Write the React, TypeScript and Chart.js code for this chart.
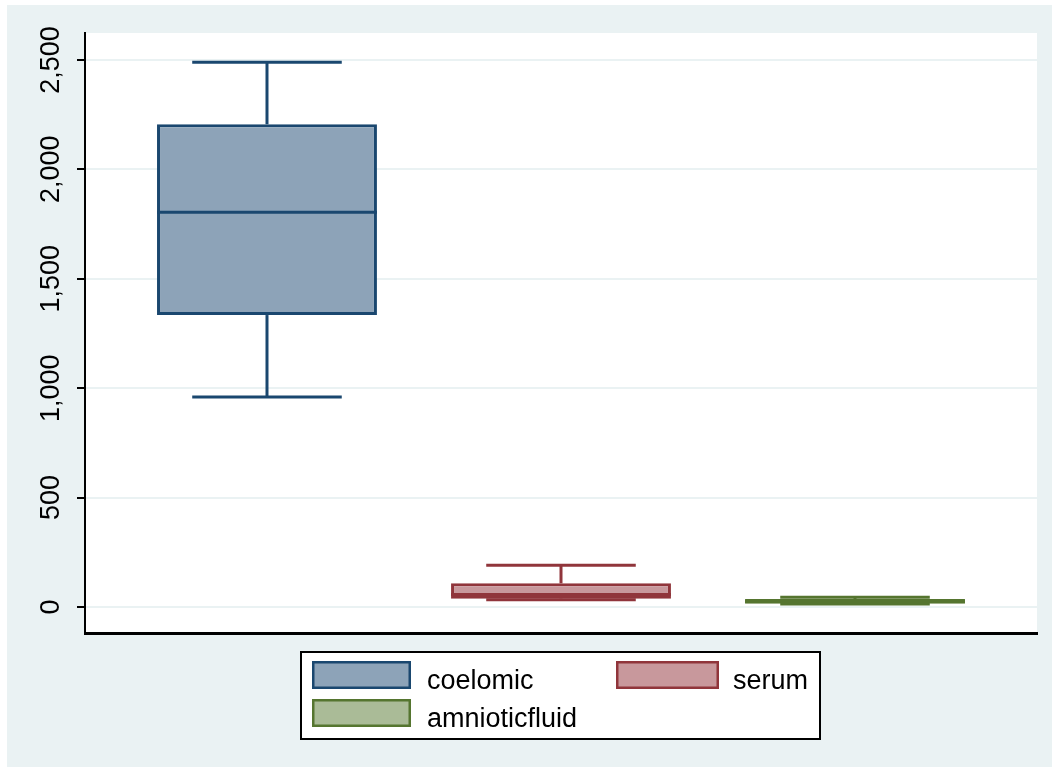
import React, { useEffect, useRef } from 'react';
import { Chart, registerables } from 'chart.js';

Chart.register(...registerables);

// Box-plot summaries per fluid
const groups = ['coelomic', 'serum', 'amnioticfluid'];
const whiskerLow = [960, 33, 14];
const quartile1 = [1334, 38, 15];
const medians = [1804, 57, 25];
const quartile3 = [2206, 108, 36];
const whiskerHigh = [2489, 191, 44];
const yTicks = [0, 500, 1000, 1500, 2000, 2500];

const lineColors = ['#1a476f', '#90353b', '#55752f'];
const fillColors = ['#8da3b8', '#c8989c', '#aabb97'];
const PANEL = '#eaf2f3';
const FONT = '"Liberation Sans", Arial, Helvetica, sans-serif';

// Light outer panel with a white plotting region
const backgroundPlugin = {
  id: 'panelBackground',
  beforeDraw(chart: any) {
    const { ctx, width, height, chartArea } = chart;
    ctx.save();
    ctx.fillStyle = '#ffffff';
    ctx.fillRect(0, 0, width, height);
    ctx.fillStyle = PANEL;
    ctx.fillRect(7, 5, width - 7, height - 5);
    ctx.fillStyle = '#ffffff';
    ctx.fillRect(chartArea.left, chartArea.top, chartArea.right - chartArea.left, chartArea.bottom - chartArea.top);
    ctx.restore();
  },
};

// Medians and whiskers on top of the floating quartile bars
const boxPlugin = {
  id: 'boxWhiskers',
  afterDatasetsDraw(chart: any) {
    const { ctx } = chart;
    const y = chart.scales.y;
    ctx.save();
    ctx.lineWidth = 3;
    ctx.lineCap = 'butt';
    groups.forEach((_, i) => {
      const el: any = chart.getDatasetMeta(i).data[0];
      if (!el) return;
      const cx = el.x;
      const half = el.width / 2;
      const cap = el.width * 0.34;
      const line = (x1: number, y1: number, x2: number, y2: number) => {
        ctx.beginPath();
        ctx.moveTo(x1, y1);
        ctx.lineTo(x2, y2);
        ctx.stroke();
      };
      ctx.strokeStyle = lineColors[i];
      const yHi = y.getPixelForValue(whiskerHigh[i]);
      const yQ3 = y.getPixelForValue(quartile3[i]);
      const yMed = y.getPixelForValue(medians[i]);
      const yQ1 = y.getPixelForValue(quartile1[i]);
      const yLo = y.getPixelForValue(whiskerLow[i]);
      line(cx, yQ3, cx, yHi);
      line(cx - cap, yHi, cx + cap, yHi);
      line(cx, yQ1, cx, yLo);
      line(cx - cap, yLo, cx + cap, yLo);
      line(cx - half, yMed, cx + half, yMed);
    });
    ctx.restore();
  },
};

// Framed two-column legend under the plot
const legendPlugin = {
  id: 'framedLegend',
  afterDraw(chart: any) {
    const { ctx } = chart;
    const left = 300;
    const top = 651;
    ctx.save();
    ctx.fillStyle = '#ffffff';
    ctx.fillRect(left, top, 521, 89);
    ctx.strokeStyle = '#000000';
    ctx.lineWidth = 2;
    ctx.strokeRect(left + 1, top + 1, 519, 87);
    const slots = [
      { x: 12, y: 10, w: 99, tx: 127 },
      { x: 316, y: 10, w: 103, tx: 433 },
      { x: 12, y: 48, w: 99, tx: 127 },
    ];
    ctx.font = `27px ${FONT}`;
    ctx.textBaseline = 'alphabetic';
    ctx.textAlign = 'left';
    groups.forEach((g, i) => {
      const s = slots[i];
      ctx.fillStyle = fillColors[i];
      ctx.fillRect(left + s.x, top + s.y, s.w, 28);
      ctx.strokeStyle = lineColors[i];
      ctx.lineWidth = 2.5;
      ctx.strokeRect(left + s.x + 1.25, top + s.y + 1.25, s.w - 2.5, 28 - 2.5);
      ctx.fillStyle = '#000000';
      ctx.fillText(g, left + s.tx, top + s.y + 28);
    });
    ctx.restore();
  },
};

export default function App() {
  const ref = useRef<HTMLCanvasElement>(null);

  useEffect(() => {
    const canvas = ref.current;
    if (!canvas) return;
    const chart = new Chart(canvas, {
      type: 'bar',
      data: {
        labels: [''],
        datasets: groups.map((g, i) => ({
          label: g,
          data: [[quartile1[i], quartile3[i]]] as any,
          backgroundColor: fillColors[i],
          borderColor: lineColors[i],
          borderWidth: 3,
          borderSkipped: false,
          categoryPercentage: 0.9265,
          barPercentage: 0.748,
        })),
      },
      options: {
        responsive: false,
        animation: false,
        devicePixelRatio: 1,
        layout: { padding: { left: 0, right: 15, top: 33, bottom: 134 } },
        plugins: {
          legend: { display: false },
          tooltip: { enabled: false },
        },
        scales: {
          x: {
            type: 'category',
            grid: { display: false },
            ticks: { display: false },
            border: { display: true, color: '#000000', width: 3 },
            afterFit: (s: any) => {
              s.height = 0;
            },
          },
          y: {
            type: 'linear',
            min: -119,
            max: 2623,
            afterBuildTicks: (s: any) => {
              s.ticks = yTicks.map((v) => ({ value: v }));
            },
            ticks: {
              autoSkip: false,
              minRotation: 90,
              maxRotation: 90,
              crossAlign: 'center',
              padding: -8,
              color: '#000000',
              font: { family: FONT, size: 27 },
              callback: (v: any) => Number(v).toLocaleString('en-US'),
            },
            grid: {
              color: PANEL,
              lineWidth: 2,
              tickLength: 8,
              tickColor: '#000000',
              tickWidth: 2,
            },
            border: { display: true, color: '#000000', width: 2 },
            afterFit: (s: any) => {
              s.width = 85;
            },
          },
        },
      } as any,
      plugins: [backgroundPlugin, boxPlugin, legendPlugin],
    });
    return () => chart.destroy();
  }, []);

  return (
    <div style={{ position: 'absolute', left: 0, top: 0, width: 1052, height: 767 }}>
      <canvas ref={ref} width={1052} height={767} style={{ display: 'block' }} />
    </div>
  );
}
